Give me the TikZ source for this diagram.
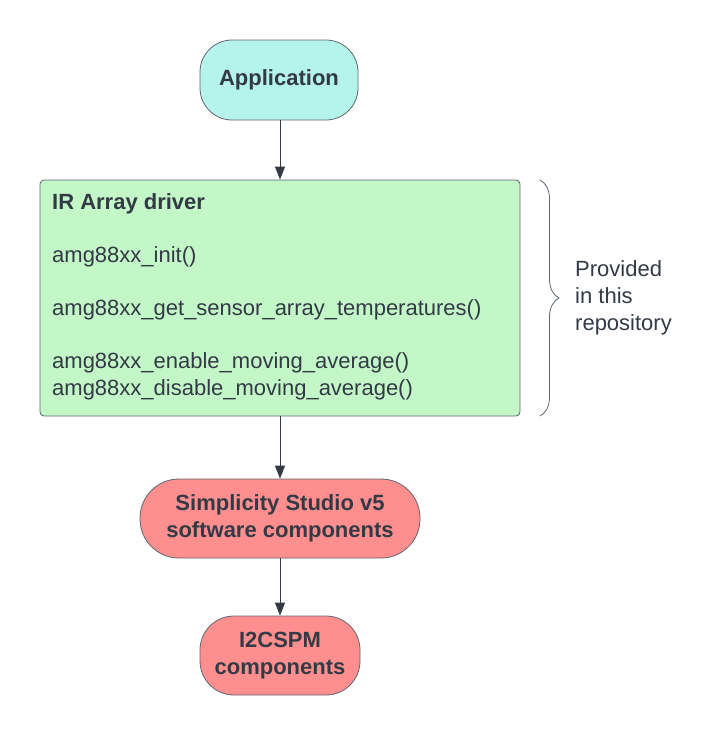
\documentclass[tikz,border=0pt]{standalone}
\usepackage{fontspec}
\setmainfont{Liberation Sans}
\usetikzlibrary{arrows.meta,decorations.pathreplacing}
\definecolor{txt}{HTML}{333A45}
\definecolor{edge}{HTML}{5E6670}
\definecolor{appc}{HTML}{B4F4EB}
\definecolor{drvc}{HTML}{C3F7C8}
\definecolor{redc}{HTML}{FF8F8F}
\tikzset{
  pill/.style={draw=edge, line width=0.8pt, text=txt, align=center, inner sep=0pt,
    font=\fontsize{22}{27}\selectfont\bfseries},
  codeline/.style={anchor=west, text=txt, inner sep=0pt, font=\fontsize{22}{27}\selectfont},
  flow/.style={draw=txt, line width=0.9pt, -{Triangle[width=10pt,length=13pt]}},
}
\begin{document}
\begin{tikzpicture}[x=1pt,y=-1pt]
\useasboundingbox (0,0) rectangle (720,736);
\node[pill, fill=appc, minimum width=158pt, minimum height=80pt, rounded corners=32pt] (app) at (279,80) {Application};
\node[draw=edge, line width=0.8pt, fill=drvc, minimum width=480pt, minimum height=236pt, rounded corners=4pt, inner sep=0pt] (drv) at (280,298) {};
\node[codeline, font=\fontsize{22}{27}\selectfont\bfseries] (title) at (52,204) {IR Array driver};
\node[codeline] (l1) at (52,257) {amg88xx\_init()};
\node[codeline] (l2) at (52,310) {amg88xx\_get\_sensor\_array\_temperatures()};
\node[codeline] (l3) at (52,363) {amg88xx\_enable\_moving\_average()};
\node[codeline] (l4) at (52,390) {amg88xx\_disable\_moving\_average()};
\node[pill, fill=redc, minimum width=280pt, minimum height=79pt, rounded corners=39pt] (sdk) at (280,518.5) {Simplicity Studio v5\\software components};
\node[pill, fill=redc, minimum width=160pt, minimum height=79pt, rounded corners=34pt] (i2c) at (280,655.5) {I2CSPM\\components};
\draw[flow] (app.south -| drv.north) -- (drv.north);
\draw[flow] (drv.south) -- (sdk.north);
\draw[flow] (sdk.south) -- (i2c.north);
\coordinate (bt) at (540,180);
\coordinate (bb) at (540,416);
\draw[edge, line width=0.8pt, decorate, decoration={brace, amplitude=19pt}] (bt) -- (bb);
\node[anchor=west, text=txt, align=left, inner sep=0pt, font=\fontsize{22}{27}\selectfont] (prov) at (575,298) {Provided\\in this\\repository};
\end{tikzpicture}
\end{document}
